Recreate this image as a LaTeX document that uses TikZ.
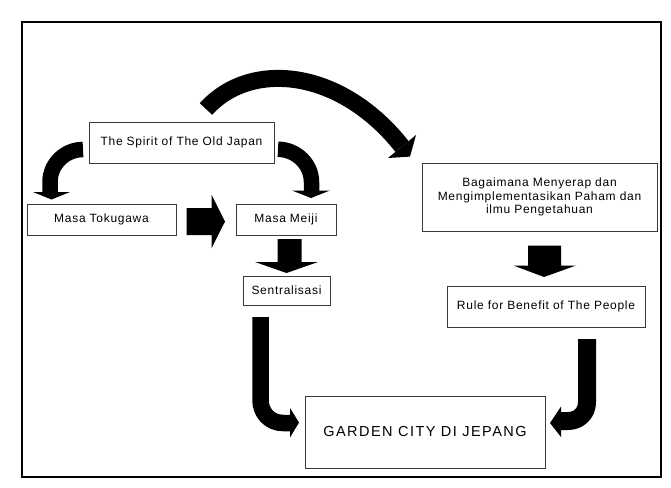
\documentclass[tikz,border=0pt]{standalone}
\usepackage{fontspec}
\setmainfont{Liberation Sans}[LetterSpace=6]
\definecolor{boxgray}{HTML}{3A3A3A}
\begin{document}
\begin{tikzpicture}[x=1pt,y=-1pt,
  box/.style={draw=boxgray, line width=0.9pt, fill=white, inner sep=0pt, align=center,
              font=\fontsize{12}{13.5}\selectfont},
  band/.style={draw=black, line cap=butt, line join=round},
  head/.style={fill=black}]
\useasboundingbox (0,0) rectangle (671,487);
\fill[white] (0,0) rectangle (671,487);
\draw[line width=1.8pt] (22,22) rectangle (661,477);

% nodes
\node[box, minimum width=185pt, minimum height=41pt] (spirit) at (181.5,142.5) {The Spirit of The Old Japan};
\node[box, minimum width=149pt, minimum height=31pt] (toku) at (101.5,219.5) {Masa Tokugawa};
\node[box, minimum width=100pt, minimum height=31pt] (meiji) at (286,219.5) {Masa Meiji};
\node[box, minimum width=87pt, minimum height=29pt] (sentral) at (286.5,290.5) {Sentralisasi};
\node[box, minimum width=235pt, minimum height=68pt] (bagai) at (539.5,197) {Bagaimana Menyerap dan\\Mengimplementasikan Paham dan\\ilmu Pengetahuan};
\node[box, minimum width=198pt, minimum height=41pt] (rule) at (546,306.5) {Rule for Benefit of The People};
\node[box, minimum width=240pt, minimum height=72pt, font=\fontsize{14.5}{17}\selectfont\addfontfeature{LetterSpace=10}] (garden) at (425,432) {GARDEN CITY DI JEPANG};

% big arc: spirit -> bagai
\draw[band, line width=17pt] (206,109) .. controls (250,60) and (340,68) .. (402,146.5);
\fill[head] (416,135) -- (410,156.6) -- (388,158) -- cycle;

% spirit -> toku
\draw[band, line width=15.5pt] (83,149.5) .. controls (65,149.5) and (50,164) .. (50,182) -- (50,192.5);
\fill[head] (33,192) -- (70,192) -- (51.5,199.5) -- cycle;

% spirit -> meiji
\draw[band, line width=15.5pt] (278,149.3) .. controls (296,149.3) and (311.5,164) .. (311.5,182) -- (311.5,191);
\fill[head] (292,190.5) -- (330,190.5) -- (311,198) -- cycle;

% toku -> meiji
\fill[head] (186.7,208) -- (211.7,208) -- (211.7,195) -- (225,221.5) -- (211.7,248) -- (211.7,235) -- (186.7,235) -- cycle;

% meiji -> sentral
\fill[head] (277.5,239) -- (301.5,239) -- (301.5,262) -- (318,262) -- (286.5,273) -- (255,262) -- (277.5,262) -- cycle;

% bagai -> rule
\fill[head] (528,245.5) -- (561,245.5) -- (561,265.5) -- (576,265.5) -- (544,277) -- (513.5,265.5) -- (528,265.5) -- cycle;

% sentral -> garden
\draw[band, line width=16.5pt] (260.5,317) -- (260.5,400) .. controls (260.5,413) and (270,423) .. (283,423) -- (290.5,423);
\fill[head] (290,408) -- (299,422.5) -- (290,437.5) -- cycle;

% rule -> garden
\draw[band, line width=18pt] (587,339) -- (587,402) .. controls (587,413) and (579,421) .. (568,421) -- (560.5,421);
\fill[head] (561,406.5) -- (550,423) -- (561,437) -- cycle;
\end{tikzpicture}
\end{document}
